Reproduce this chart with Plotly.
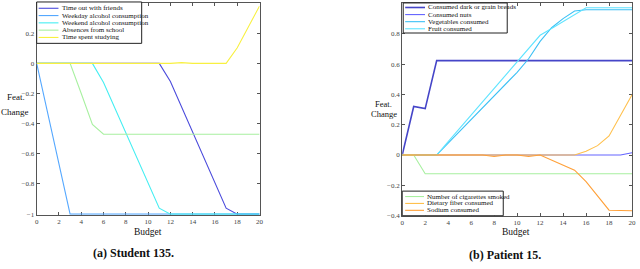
import plotly.graph_objects as go

# ---------------- data ----------------
budget = list(range(21))
x_ticks = list(range(0, 21, 2))

# (a) Student 135
s_names = ["Time out with friends", "Weekday alcohol consumption", "Weekend alcohol consumption",
           "Absences from school", "Time spent studying"]
time_out = [0]*12 + [-0.12, -0.288, -0.456, -0.624, -0.792, -0.96, -1, -1, -1]
weekday = [0, -0.333, -0.667] + [-1]*18
weekend = [0]*6 + [-0.127, -0.294, -0.46, -0.627, -0.794, -0.96] + [-1]*9
absences = [0]*4 + [-0.2, -0.405] + [-0.47]*15
studying = [0]*13 + [0.005] + [0]*4 + [0.103, 0.24, 0.38]
s_series = [time_out, weekday, weekend, absences, studying]
s_colors = ["#4b4bdc", "#55a8ff", "#45eef2", "#a8f0a0", "#f8f040"]
s_yticks = [-1, -0.8, -0.6, -0.4, -0.2, 0, 0.2, 0.4]

# (b) Patient 15
p_names = ["Consumed dark or grain breads", "Consumed nuts", "Vegetables consumed", "Fruit consumed",
           "Number of cigarettes smoked", "Dietary fiber consumed", "Sodium consumed"]
breads = [0, 0.32, 0.306] + [0.623]*18
nuts = [0]*20 + [0.015]
veg = [0, 0, 0, 0, 0.078, 0.156, 0.234, 0.312, 0.39, 0.468, 0.546, 0.635, 0.75, 0.84, 0.90, 0.95] + [0.958]*5
fruit = [0, 0, 0, 0, 0.088, 0.176, 0.264, 0.352, 0.44, 0.528, 0.616, 0.704, 0.79, 0.835, 0.88, 0.925] + [0.972]*5
cig = [0, 0] + [-0.123]*19
fiber = [0, 0, 0, 0, -0.004, 0, 0, 0, 0, 0, 0, 0, 0, 0, 0, 0, 0.025, 0.062, 0.126, 0.26, 0.398]
sodium = [0]*8 + [-0.01, 0, 0, -0.01, 0, -0.033, -0.066, -0.1, -0.175, -0.27, -0.364, -0.366, -0.368]
p_series = [breads, nuts, veg, fruit, cig, fiber, sodium]
p_colors = ["#4545c8", "#6464ff", "#3cc0f5", "#60e4ff", "#a8f0a0", "#ffc04d", "#ffa038"]
p_widths = [1.6, 1.1, 1.1, 1.1, 1.1, 1.1, 1.1]
p_yticks = [-0.4, -0.2, 0, 0.2, 0.4, 0.6, 0.8, 1]

def fmt(v):
    s = ("%g" % v)
    return s.replace("-", "\u2212")

# ---------------- figure ----------------
W, H = 640, 269
def px(x):
    return x / W
def py(y):
    return 1 - y / H

fig = go.Figure()
for name, ys, c in zip(s_names, s_series, s_colors):
    fig.add_trace(go.Scatter(x=budget, y=ys, mode="lines", name=name,
                             line=dict(color=c, width=1.1), xaxis="x", yaxis="y", showlegend=False))
for name, ys, c, w in zip(p_names, p_series, p_colors, p_widths):
    fig.add_trace(go.Scatter(x=budget, y=ys, mode="lines", name=name,
                             line=dict(color=c, width=w), xaxis="x2", yaxis="y2", showlegend=False))

serif = "Liberation Serif"
axcommon = dict(showline=True, linecolor="#555", linewidth=1, mirror="ticks", ticks="inside",
                ticklen=3, tickcolor="#555", showgrid=False, zeroline=False,
                tickfont=dict(family=serif, size=7, color="#444"), layer="below traces")

fig.update_layout(
    width=W, height=H, margin=dict(l=0, r=0, t=0, b=0),
    paper_bgcolor="white", plot_bgcolor="white", showlegend=False,
    font=dict(family=serif),
    xaxis=dict(domain=[px(35), px(260)], range=[0, 20.001], tickvals=x_ticks,
               ticktext=[str(v) for v in x_ticks], anchor="y", **axcommon),
    yaxis=dict(domain=[py(218), py(3)], range=[-1.004, 0.4005], tickvals=s_yticks,
               ticktext=[fmt(v) for v in s_yticks], anchor="x", **axcommon),
    xaxis2=dict(domain=[px(404), px(636)], range=[0, 20.001], tickvals=x_ticks,
                ticktext=[str(v) for v in x_ticks], anchor="y2", **axcommon),
    yaxis2=dict(domain=[py(219), py(3.2)], range=[-0.4005, 1.002], tickvals=p_yticks,
                ticktext=[fmt(v) for v in p_yticks], anchor="x2", **axcommon),
)

shapes = []
annotations = []

def legend(x0, x1, y0, y1, names, colors, rows_y, line_x0, line_x1, widths=None):
    shapes.append(dict(type="rect", xref="paper", yref="paper",
                       x0=px(x0), x1=px(x1), y0=py(y1), y1=py(y0),
                       line=dict(color="#222", width=1), fillcolor="white", layer="above"))
    for i, (n, c, ry) in enumerate(zip(names, colors, rows_y)):
        w = widths[i] if widths else 1.1
        shapes.append(dict(type="line", xref="paper", yref="paper",
                           x0=px(line_x0), x1=px(line_x1), y0=py(ry), y1=py(ry),
                           line=dict(color=c, width=w), layer="above"))
        annotations.append(dict(x=px(line_x1 + 1.5), y=py(ry), xref="paper", yref="paper",
                                text=n, showarrow=False, xanchor="left", yanchor="middle",
                                font=dict(family=serif, size=7, color="#111")))

legend(35, 141, 2, 44, s_names, s_colors, [8.4, 15.8, 23.2, 30.6, 38.0], 37, 57)
legend(405, 510, 3, 33.5, p_names[:4], p_colors[:4], [7.6, 14.8, 22.0, 29.2], 407, 427, p_widths[:4])
legend(404, 506, 194, 219, p_names[4:], p_colors[4:], [199.5, 206.5, 213.5], 407, 426)

def label(x, y, text, size):
    annotations.append(dict(x=px(x), y=py(y), xref="paper", yref="paper", text=text, showarrow=False,
                            xanchor="center", yanchor="middle",
                            font=dict(family=serif, size=size, color="#111")))

label(14, 98, "Feat.", 9)
label(13, 114, "Change", 9)
label(385, 106, "Feat.", 8.5)
label(386, 116, "Change", 8.5)
label(147, 235, "Budget", 9.5)
label(519, 236, "Budget", 9.5)
label(133, 257, "<b>(a) Student 135.</b>", 12)
label(508, 259, "<b>(b) Patient 15.</b>", 12)

fig.update_layout(shapes=shapes, annotations=annotations)
fig.write_html("out.html", config={"displayModeBar": False},
               post_script="document.body.style.margin='0';document.body.style.padding='0';")
